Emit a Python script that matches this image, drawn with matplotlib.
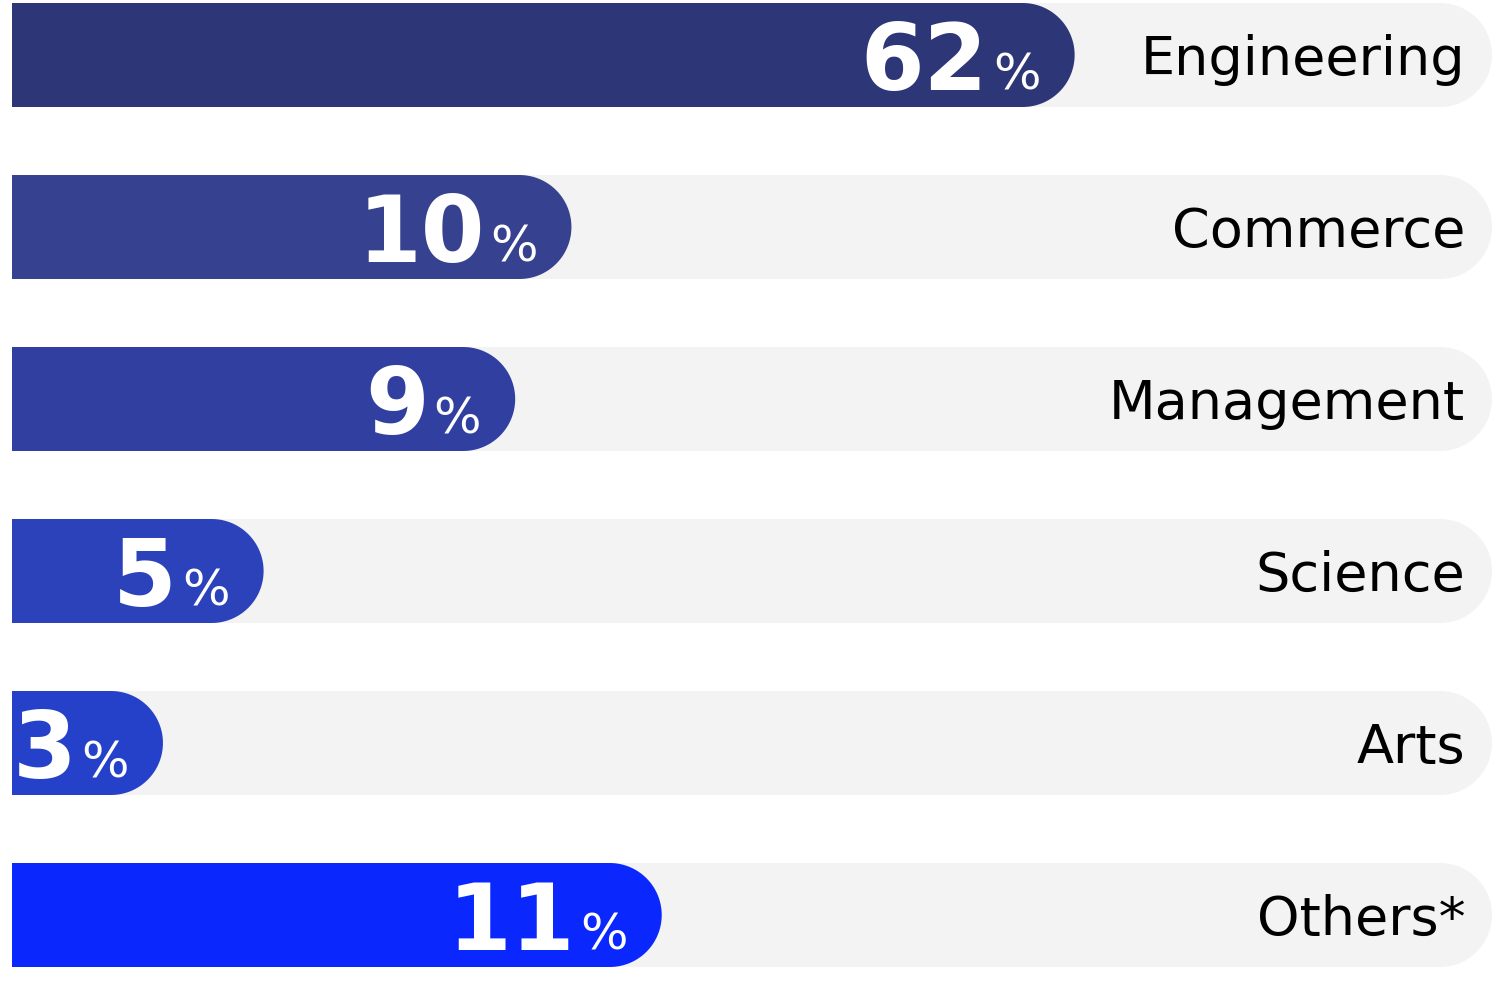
import matplotlib
matplotlib.use("Agg")
import matplotlib.pyplot as plt
import numpy as np
from matplotlib.patches import Polygon

# ---- data ----
categories = ["Engineering", "Commerce", "Management", "Science", "Arts", "Others*"]
values = [62, 10, 9, 5, 3, 11]
# displayed bar extent as percent of the track
bar_extent = [71.8, 37.8, 34.0, 17.0, 10.2, 43.9]
colors = ["#2d3677", "#36428f", "#3140a0", "#2c42bb", "#2541c9", "#0a28fd"]
track_color = "#f3f3f3"

W, H = 1500, 981
fig = plt.figure(figsize=(W / 100, H / 100), dpi=100)
ax = fig.add_axes([0, 0, 1, 1])
ax.axis("off")

px_x = 14.8      # pixels per x unit
px_y = 172.0     # pixels per row
left_px = 12
top_center_px = 55
ax.set_xlim(-left_px / px_x, (W - left_px) / px_x)
ax.set_ylim((H - top_center_px) / px_y, -top_center_px / px_y)

half_h = 52 / px_y
rx = 52 / px_x


def rounded_bar(y, length, color, z):
    theta = np.linspace(-np.pi / 2, np.pi / 2, 60)
    cx = length - rx
    arc = np.column_stack([cx + rx * np.cos(theta), y + half_h * np.sin(theta)])
    pts = np.vstack([[0, y - half_h], arc, [0, y + half_h]])
    ax.add_patch(Polygon(pts, closed=True, facecolor=color, edgecolor="none", zorder=z))


for i, (cat, val, ext, col) in enumerate(zip(categories, values, bar_extent, colors)):
    rounded_bar(i, 100, track_color, 1)
    rounded_bar(i, ext, col, 2)
    ax.text(98.2, i + 20 / px_y, cat, ha="right", va="baseline",
            fontsize=39, color="#000000", family="DejaVu Sans", zorder=3)
    yb = i + 35 / px_y
    pct = ax.text(ext - 34 / px_x, yb, "%", ha="right", va="baseline",
                  fontsize=36, color="white", family="DejaVu Sans", zorder=3)
    ax.annotate(str(val), xy=(0, yb), xycoords=(pct, "data"),
                xytext=(-5, 0), textcoords="offset pixels",
                ha="right", va="baseline", fontsize=66, fontweight="heavy",
                color="white", family="DejaVu Sans", zorder=3)

fig.savefig("out.png", dpi=100, facecolor="white")
